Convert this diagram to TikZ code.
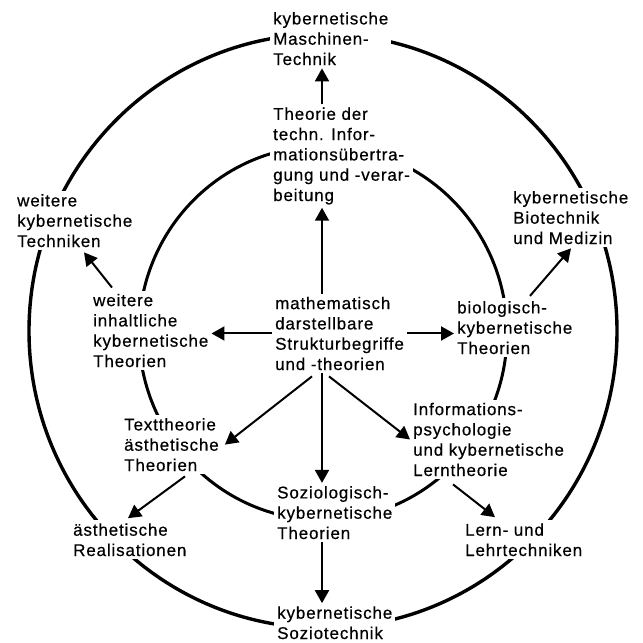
\documentclass[tikz,border=0pt]{standalone}
\usepackage{fontspec}
\setmainfont{Liberation Sans}[LetterSpace=5, FakeBold=0.5]
\usetikzlibrary{arrows.meta, calc}
\tikzset{
    field/.style={
        anchor=base west,
        align=left,
        fill=white,
        inner sep=3pt,
        font=\fontsize{17}{20.3}\selectfont
    },
    ring/.style={line width=3.4pt},
    innerring/.style={line width=3pt},
    line/.style={-{Triangle[length=13pt, width=14pt]}, line width=2pt}
}

\begin{document}
\begin{tikzpicture}[x=1pt, y=-1pt]
\useasboundingbox (0,0) rectangle (643,643);
\coordinate (axis) at (322,0);

% the two rings, cut by the white boxes below
\draw[ring] (323,331) ellipse [x radius=294pt, y radius=297pt];
\draw[innerring] (323,333) ellipse [x radius=184pt, y radius=187pt];

% centre and inner ring (placed at the baseline of the last line)
\node[field] (math) at (272,370) {mathematisch\\darstellbare\\Strukturbegriffe\\und -theorien};
\node[field] (theo) at (270,201) {Theorie der\\techn. Infor-\\mationsübertra-\\gung und -verar-\\beitung};
\node[field] (inh) at (90,367) {weitere\\inhaltliche\\kybernetische\\Theorien};
\node[field] (bio) at (454,354) {biologisch-\\kybernetische\\Theorien};
\node[field] (text) at (121,471) {Texttheorie\\ästhetische\\Theorien};
\node[field] (soz) at (274,539) {Soziologisch-\\kybernetische\\Theorien};
\node[field] (info) at (410,476) {Informations-\\psychologie\\und kybernetische\\Lerntheorie};

% outer ring
\node[field] (masch) at (270,65) {kybernetische\\Maschinen-\\Technik};
\node[field] (weit) at (14,247) {weitere\\kybernetische\\Techniken};
\node[field] (biot) at (510,244) {kybernetische\\Biotechnik\\und Medizin};
\node[field] (real) at (70,556) {ästhetische\\Realisationen};
\node[field] (sozt) at (274,639) {kybernetische\\Soziotechnik};
\node[field] (lern) at (462,556) {Lern- und\\Lehrtechniken};

% arrows
\draw[line] (math.north -| axis) -- (theo.south -| axis);
\draw[line] (theo.north -| axis) -- (masch.south -| axis);
\draw[line] (math.west) -- (math.west -| inh.east);
\draw[line] (math.east) -- (math.east -| bio.west);
\draw[line] ($(math.south west)+(40,3)$) -- ($(text.east)+(3,0)$);
\draw[line] (math.south -| axis) -- (soz.north -| axis);
\draw[line] ($(math.south west)+(57,3)$) -- (info.west);
\draw[line] ($(inh.north west)+(22,-3)$) -- ($(weit.south west)+(70,2)$);
\draw[line] ($(bio.north west)+(76,-2)$) -- ($(biot.south west)+(61,1)$);
\draw[line] ($(text.south west)+(64,2)$) -- ($(real.north west)+(58,-2)$);
\draw[line] (soz.south -| axis) -- (sozt.north -| axis);
\draw[line] ($(info.south west)+(43,5)$) -- ($(lern.north west)+(33,-3)$);
\end{tikzpicture}
\end{document}
